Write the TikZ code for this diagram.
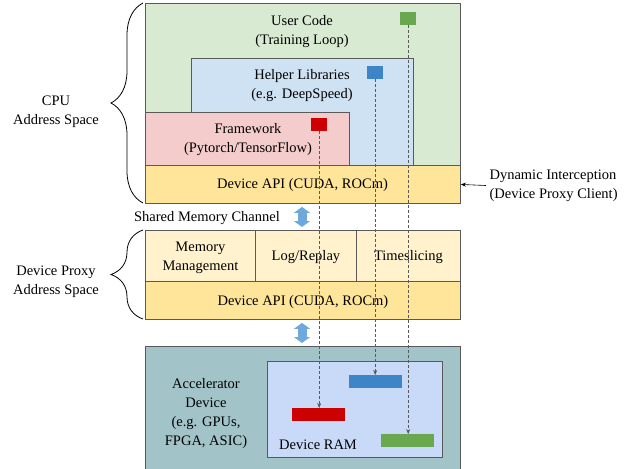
\documentclass[tikz,border=0pt]{standalone}
\usepackage{fontspec}
\setmainfont{Liberation Serif}
\usetikzlibrary{arrows.meta}
\usetikzlibrary{decorations.pathreplacing}

\definecolor{usergreen}{HTML}{D9EAD3}
\definecolor{helperblue}{HTML}{CFE2F3}
\definecolor{frameworkred}{HTML}{F4CCCC}
\definecolor{apiyellow}{HTML}{FFE599}
\definecolor{proxyyellow}{HTML}{FFF2CC}
\definecolor{accelteal}{HTML}{A2C4C9}
\definecolor{ramblue}{HTML}{C9DAF8}
\definecolor{blkred}{HTML}{CC0000}
\definecolor{blkblue}{HTML}{3D85C6}
\definecolor{blkgreen}{HTML}{6AA84F}
\definecolor{chanblue}{HTML}{6FA8DC}
\definecolor{edgegray}{HTML}{595959}

\begin{document}
\begin{tikzpicture}[x=1pt,y=-1pt,
        layer/.style={draw=edgegray,line width=0.9pt,anchor=north west,inner sep=0pt},
        blk/.style={anchor=north west,inner sep=0pt,minimum width=16pt,minimum height=13pt},
        bar/.style={anchor=north west,inner sep=0pt,minimum width=53pt,minimum height=13pt},
        lbl/.style={align=center,font=\fontsize{14.5}{19}\selectfont,yshift=-1.5pt},
        trace/.style={draw=black!65,dashed,dash pattern=on 3pt off 2pt,line width=0.6pt,-{Stealth[length=5pt,width=4pt]}},
        channel/.style={draw=chanblue,line width=9pt,{Triangle[width=16pt,length=6pt]}-{Triangle[width=16pt,length=6pt]},shorten <=3pt,shorten >=3pt},
        bracket/.style={decorate,decoration={brace,amplitude=32pt},line width=0.8pt}]

            %\draw [help lines] (0,0) grid (638,469);
            \useasboundingbox (0,0) rectangle (638,469);
            \clip (0,0) rectangle (638,469);

            % CPU address space
            \path   (145,3)   node (user) [layer,fill=usergreen,minimum width=315pt,minimum height=162pt] {}
                    (191,58)  node (helper) [layer,fill=helperblue,minimum width=222pt,minimum height=107pt] {}
                    (145,112) node (framework) [layer,fill=frameworkred,minimum width=204pt,minimum height=53pt] {}
                    (145,165) node (cpuapi) [layer,fill=apiyellow,minimum width=315pt,minimum height=38pt] {};

            \path   (302,30)    node (usertxt) [lbl] {User Code\\(Training Loop)}
                    (302,84)    node (helpertxt) [lbl] {Helper Libraries\\(e.g. DeepSpeed)}
                    (248,138)   node (frameworktxt) [lbl] {Framework\\(Pytorch/TensorFlow)}
                    (302.5,184) node (cpuapitxt) [lbl] {Device API (CUDA, ROCm)};

            \path   (400,12)  node (greensq) [blk,fill=blkgreen] {}
                    (367,66)  node (bluesq) [blk,fill=blkblue] {}
                    (311,118) node (redsq) [blk,fill=blkred] {};

            % device proxy address space
            \path   (145,230) node (mem) [layer,fill=proxyyellow,minimum width=110pt,minimum height=51pt] {}
                    (255,230) node (log) [layer,fill=proxyyellow,minimum width=101pt,minimum height=51pt] {}
                    (356,230) node (slice) [layer,fill=proxyyellow,minimum width=104pt,minimum height=51pt] {}
                    (145,281) node (proxyapi) [layer,fill=apiyellow,minimum width=315pt,minimum height=38pt] {};

            \path   (mem.center)      node (memtxt) [lbl] {Memory\\Management}
                    (log.center)      node (logtxt) [lbl] {Log/Replay}
                    (slice.center)    node (slicetxt) [lbl] {Timeslicing}
                    (proxyapi.center) node (proxyapitxt) [lbl] {Device API (CUDA, ROCm)};

            % accelerator
            \path   (145,346) node (accel) [layer,fill=accelteal,minimum width=315pt,minimum height=140pt] {}
                    (267,361) node (ram) [layer,fill=ramblue,line width=0.7pt,minimum width=175pt,minimum height=96pt] {}
                    (349,375) node (bluebar) [bar,fill=blkblue] {}
                    (292,408) node (redbar) [bar,fill=blkred] {}
                    (381,434) node (greenbar) [bar,fill=blkgreen] {};

            \path   (206,412) node (acceltxt) [lbl] {Accelerator\\Device\\(e.g. GPUs,\\FPGA, ASIC)}
                    (318,443) node (ramtxt) [lbl] {Device RAM};

            % side labels
            \path   (56,110)  node (cpulbl) [lbl] {CPU\\Address Space}
                    (56,280)  node (proxylbl) [lbl] {Device Proxy\\Address Space}
                    (207,217) node (shmlbl) [lbl] {Shared Memory Channel}
                    (486,184) node (dyn) [lbl,align=left,anchor=west] {Dynamic Interception\\(Device Proxy Client)};

            \draw[bracket] (143,203) -- (143,3);
            \draw[bracket] (143,319) -- (143,230);

            \draw[channel] (cpuapi.south -| 302,0) -- (302,230);
            \draw[channel] (proxyapi.south -| 302,0) -- (302,346);

            \draw[-{Stealth[length=5pt,width=4pt]},line width=0.6pt] (dyn.west) -- (cpuapi.east);

            \draw[trace] (redsq.south) -- (redsq.south |- redbar.north);
            \draw[trace] (bluesq.south) -- (bluesq.south |- bluebar.north);
            \draw[trace] (greensq.south) -- (greensq.south |- greenbar.north);
        \end{tikzpicture}
\end{document}
